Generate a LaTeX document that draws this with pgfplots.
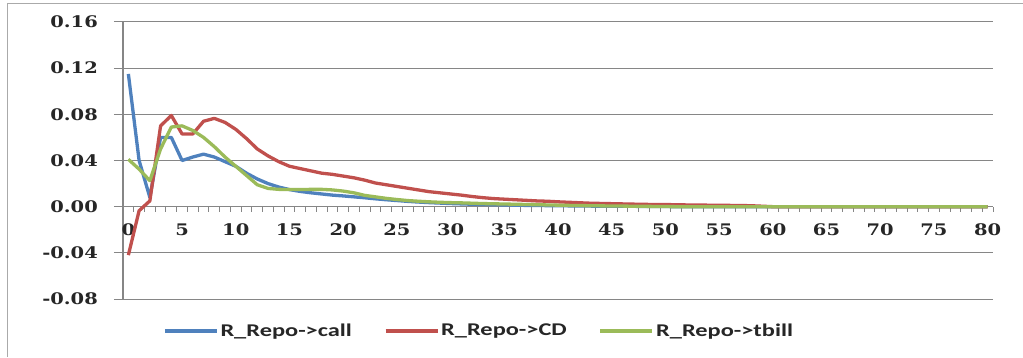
\documentclass[border=0pt]{standalone}
\usepackage{fontspec}
\usepackage{pgfplots}
\pgfplotsset{compat=1.18}
\usepackage{pgfplotstable}
\newfontfamily\tickfont[FakeStretch=1.22]{DejaVu Serif Bold}
\newfontfamily\legfont[FakeStretch=1.36]{Carlito Bold}
\definecolor{cblue}{HTML}{4F81BD}
\definecolor{cred}{HTML}{C0504D}
\definecolor{cgreen}{HTML}{9BBB59}
\definecolor{axgray}{HTML}{868686}

\pgfplotstableread{
i call cd tbill
0 0.115 -0.042 0.041
1 0.040 -0.0035 0.0325
2 0.008 0.005 0.0225
3 0.060 0.070 0.050
4 0.060 0.079 0.069
5 0.040 0.063 0.070
6 0.043 0.063 0.066
7 0.0455 0.074 0.060
8 0.043 0.0765 0.052
9 0.039 0.073 0.043
10 0.035 0.067 0.035
11 0.029 0.059 0.027
12 0.024 0.050 0.019
13 0.020 0.044 0.0158
14 0.017 0.039 0.015
15 0.0148 0.035 0.0148
16 0.0132 0.033 0.0148
17 0.012 0.031 0.015
18 0.011 0.029 0.015
19 0.010 0.028 0.0145
20 0.0093 0.0265 0.0135
21 0.0085 0.025 0.012
22 0.0077 0.023 0.0098
23 0.0068 0.0205 0.0085
24 0.0060 0.019 0.0072
25 0.0053 0.0175 0.0062
26 0.0046 0.016 0.0053
27 0.0040 0.0145 0.0047
28 0.0035 0.013 0.0042
29 0.0031 0.012 0.0038
30 0.0027 0.011 0.0035
31 0.0024 0.010 0.0033
32 0.0021 0.0088 0.0030
33 0.0019 0.0078 0.0027
34 0.0017 0.0070 0.0025
35 0.0015 0.0065 0.0023
36 0.0013 0.0060 0.0021
37 0.0011 0.0055 0.0019
38 0.0010 0.0050 0.0017
39 0.0009 0.0047 0.0015
40 0.0008 0.0042 0.0013
41 0.0007 0.0038 0.0011
42 0.0006 0.0034 0.0010
43 0.0005 0.0030 0.0008
44 0.0004 0.0028 0.0007
45 0.0004 0.0026 0.0006
46 0.0003 0.0024 0.0005
47 0.0003 0.0022 0.0004
48 0.0002 0.0020 0.0003
49 0.0002 0.0019 0.0002
50 0.0001 0.0018 0.0001
51 0 0.0017 0
52 0 0.0015 0
53 0 0.0014 0
54 0 0.0013 0
55 0 0.0012 0
56 0 0.0011 0
57 0 0.0010 0
58 0 0.0008 0
59 0 0.0004 0
60 0 0 0
61 0 0 0
62 0 0 0
63 0 0 0
64 0 0 0
65 0 0 0
66 0 0 0
67 0 0 0
68 0 0 0
69 0 0 0
70 0 0 0
71 0 0 0
72 0 0 0
73 0 0 0
74 0 0 0
75 0 0 0
76 0 0 0
77 0 0 0
78 0 0 0
79 0 0 0
80 0 0 0
}\datatable

\begin{document}
\begin{tikzpicture}[x=1bp,y=1bp]
\useasboundingbox (0,0) rectangle (1023,357);
\draw[axgray!70, line width=1bp] (7,0) -- (7,353) -- (1023,353);
\begin{axis}[
  at={(123bp,58bp)}, anchor=south west,
  width=870bp, height=277bp, scale only axis,
  xmin=-0.5, xmax=80.5, ymin=-0.08, ymax=0.16,
  axis y line*=left, axis x line*=middle,
  axis line style={axgray, line width=1.2bp},
  xtick={0,5,10,15,20,25,30,35,40,45,50,55,60,65,70,75,80},
  xticklabels={0,5,10,15,20,25,30,35,40,45,50,55,60,65,70,75,80},
  minor xtick={-0.5,0.5,...,80.5},
  ytick={-0.08,-0.04,0,0.04,0.08,0.12,0.16},
  yticklabels={-0.08,-0.04,0.00,0.04,0.08,0.12,0.16},
  tick align=outside,
  major tick length=9bp, minor tick length=5bp,
  major x tick style={draw=none},
  minor x tick style={axgray, line width=1bp},
  major y tick style={axgray, line width=1bp},
  ymajorgrids, grid style={axgray, line width=1bp},
  tick label style={font=\tickfont\fontsize{16}{16}\selectfont, text=black!85},
  yticklabel style={anchor=east, inner sep=0pt, xshift=-16bp},
  xticklabel style={anchor=base, inner sep=0pt, yshift=-20bp},
  legend style={at={(axis description cs:0.046,-0.115)}, anchor=west,
    draw=none, fill=none, inner sep=0pt,
    font=\legfont\fontsize{18}{18}\selectfont, text=black!85,
    /tikz/every even column/.append style={column sep=30bp}},
  legend columns=3,
  legend image code/.code={\draw[#1] (0bp,0bp) -- (52bp,0bp);},
  every axis plot/.append style={line width=3.3bp, line join=round},
]
\addplot[cblue, mark=none] table[x=i, y=call] {\datatable};
\addlegendentry{R\_Repo->call}
\addplot[cred, mark=none] table[x=i, y=cd] {\datatable};
\addlegendentry{R\_Repo->CD}
\addplot[cgreen, mark=none] table[x=i, y=tbill] {\datatable};
\addlegendentry{R\_Repo->tbill}
\end{axis}
\end{tikzpicture}
\end{document}
